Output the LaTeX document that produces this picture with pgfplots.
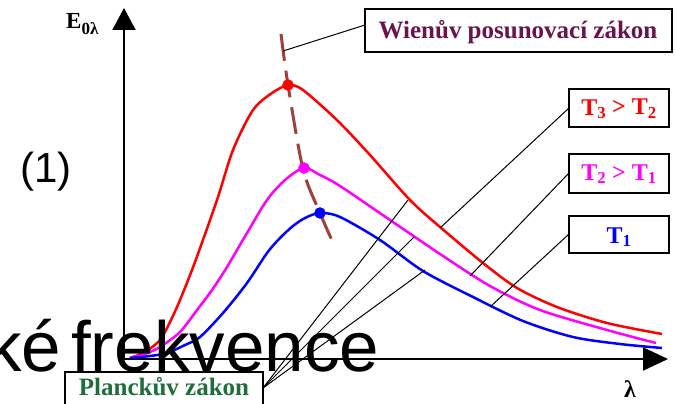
\documentclass[border=0pt]{standalone}
\usepackage{pgfplots}
\pgfplotsset{compat=1.18}
\usepackage{fontspec}
\setmainfont{Liberation Serif}
\newfontfamily\arial{Liberation Sans}
\usetikzlibrary{arrows.meta}

\definecolor{wien}{RGB}{160,64,60}
\definecolor{wientext}{RGB}{105,20,75}
\definecolor{planck}{RGB}{30,110,60}
\definecolor{tred}{RGB}{255,0,0}
\definecolor{tmag}{RGB}{255,0,255}
\definecolor{tblue}{RGB}{0,0,255}

\begin{document}
\begin{tikzpicture}
\useasboundingbox (0,0) rectangle (675bp,404bp);
\begin{axis}[
  at={(0,0)}, anchor=south west,
  scale only axis, width=675bp, height=404bp,
  xmin=0, xmax=675, ymin=0, ymax=404, y dir=reverse,
  hide axis, clip=false,
]
% axes with arrow heads
\draw[line width=2bp, -{Triangle[width=23bp,length=22bp]}] (axis cs:124,359) -- (axis cs:124,8);
\draw[line width=2bp, -{Triangle[width=23bp,length=25bp]}] (axis cs:123,359) -- (axis cs:668,359);

% T3 (red)
\addplot[tred, line width=2.5bp, smooth] coordinates {
  (130,358) (145,352) (160,340) (170,322) (180,300) (195,262) (217,200)
  (233,150) (253,110) (272,93) (288,85) (300,88) (315,100) (340,123)
  (370,155) (410,200) (440,227) (483,263) (517,288) (557,307) (607,323) (662,334)};
% T2 (magenta)
\addplot[tmag, line width=2.5bp, smooth] coordinates {
  (130,358) (145,354) (160,347) (180,332) (197,310) (212,290) (227,267)
  (247,233) (267,200) (285,180) (304,168) (320,175) (340,186) (390,220)
  (440,254) (490,286) (540,310) (607,330) (656,343)};
% T1 (blue)
\addplot[tblue, line width=2.5bp, smooth] coordinates {
  (130,358) (150,356) (167,353) (185,345) (200,337) (223,313) (247,283)
  (267,253) (280,238) (293,226) (305,218) (320,213) (340,217) (380,240)
  (423,271) (473,297) (523,321) (573,337) (620,344) (662,348)};

% Wien's displacement law
\addplot[wien, line width=3bp, dash pattern=on 27bp off 10bp, smooth] coordinates {
  (281,34) (288,85) (303,169) (320,213) (334,245)};
\addplot[only marks, mark=*, mark size=5.5bp, tred] coordinates {(288,85)};
\addplot[only marks, mark=*, mark size=5.5bp, tmag] coordinates {(304,168)};
\addplot[only marks, mark=*, mark size=5.5bp, tblue] coordinates {(320,213)};

% leader lines
\draw[line width=1bp] (axis cs:283,51) -- (axis cs:365,25);
\draw[line width=1bp] (axis cs:569,108) -- (axis cs:440,228);
\draw[line width=1bp] (axis cs:569,173) -- (axis cs:470,276);
\draw[line width=1bp] (axis cs:569,234) -- (axis cs:490,307);
\draw[line width=1bp] (axis cs:263,388) -- (axis cs:408,200);
\draw[line width=1bp] (axis cs:263,388) -- (axis cs:414,237);
\draw[line width=1bp] (axis cs:263,388) -- (axis cs:425,270);

% slide text behind the chart
\node[anchor=base west, inner sep=0, font=\arial\fontsize{42bp}{42bp}\selectfont] at (axis cs:20,182) {(1)};
\node[anchor=base west, inner sep=0, font=\arial\fontsize{71bp}{71bp}\selectfont] at (axis cs:-14,371) {ké};
\node[anchor=base west, inner sep=0, font=\arial\fontsize{71bp}{71bp}\selectfont] at (axis cs:71,371) {frekvence};

% axis labels
\node[anchor=base west, inner sep=0, font=\bfseries\fontsize{23bp}{23bp}\selectfont] at (axis cs:66,29)
  {E\raisebox{-6bp}{\fontsize{17bp}{17bp}\selectfont 0λ}};
\node[anchor=base, inner sep=0, font=\bfseries\fontsize{24bp}{24bp}\selectfont] at (axis cs:630,397) {λ};

% label boxes
\draw[line width=1.2bp, fill=white] (axis cs:365,9) rectangle (axis cs:672,52);
\node[anchor=base, inner sep=0, text=wientext, font=\bfseries\fontsize{25bp}{25bp}\selectfont] at (axis cs:518,38) {Wienův posunovací zákon};
\draw[line width=1.2bp, fill=white] (axis cs:569,89) rectangle (axis cs:669,127);
\node[anchor=base, inner sep=0, text=tred, font=\bfseries\fontsize{24bp}{24bp}\selectfont] at (axis cs:619,115) {T\textsubscript{3} > T\textsubscript{2}};
\draw[line width=1.2bp, fill=white] (axis cs:569,154) rectangle (axis cs:669,193);
\node[anchor=base, inner sep=0, text=tmag, font=\bfseries\fontsize{24bp}{24bp}\selectfont] at (axis cs:619,180) {T\textsubscript{2} > T\textsubscript{1}};
\draw[line width=1.2bp, fill=white] (axis cs:569,216) rectangle (axis cs:669,253);
\node[anchor=base, inner sep=0, text=tblue, font=\bfseries\fontsize{24bp}{24bp}\selectfont] at (axis cs:619,243) {T\textsubscript{1}};
\draw[line width=1.2bp, fill=white] (axis cs:65,372) rectangle (axis cs:263,414);
\node[anchor=base, inner sep=0, text=planck, font=\bfseries\fontsize{25bp}{25bp}\selectfont] at (axis cs:164,395) {Planckův zákon};
\end{axis}
\end{tikzpicture}
\end{document}
